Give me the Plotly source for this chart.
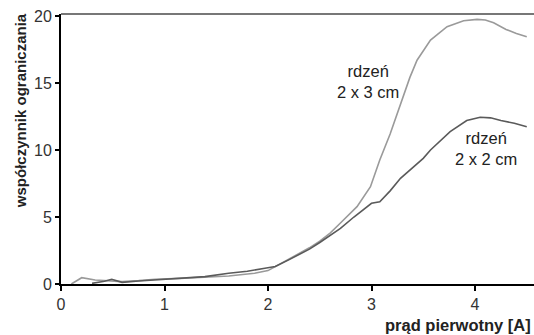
import plotly.graph_objects as go

# 2 x 3 cm core (light grey)
x_3cm = [0.10, 0.20, 0.33, 0.43, 0.59, 0.75, 0.91, 1.15, 1.39, 1.62, 1.87, 2.00, 2.20, 2.40, 2.50, 2.60, 2.70,
         2.86, 2.99, 3.08, 3.18, 3.29, 3.37, 3.44, 3.57, 3.73, 3.89, 4.02, 4.10, 4.18, 4.30, 4.40, 4.50]
y_3cm = [0.00, 0.47, 0.30, 0.25, 0.18, 0.25, 0.35, 0.42, 0.50, 0.60, 0.80, 1.00, 1.85, 2.70, 3.20, 3.80, 4.55,
         5.77, 7.26, 9.25, 11.2, 13.7, 15.4, 16.7, 18.2, 19.2, 19.65, 19.75, 19.7, 19.5, 19.0, 18.7, 18.45]

# 2 x 2 cm core (dark grey)
x_2cm = [0.30, 0.42, 0.49, 0.59, 0.75, 0.91, 1.15, 1.39, 1.62, 1.80, 1.97, 2.07, 2.20, 2.40, 2.50, 2.60, 2.70,
         2.83, 2.92, 3.00, 3.08, 3.18, 3.28, 3.40, 3.50, 3.57, 3.76, 3.92, 4.05, 4.15, 4.25, 4.38, 4.50]
y_2cm = [0.05, 0.20, 0.35, 0.12, 0.22, 0.30, 0.40, 0.55, 0.80, 0.95, 1.17, 1.30, 1.80, 2.60, 3.10, 3.60, 4.15,
         5.00, 5.55, 6.02, 6.14, 6.95, 7.89, 8.70, 9.38, 10.0, 11.37, 12.2, 12.44, 12.4, 12.2, 12.0, 11.74]

labels = ["rdzeń<br>2 x 3 cm", "rdzeń<br>2 x 2 cm"]
label_x = [2.97, 4.11]
label_y = [15.15, 10.15]

x_ticks = [0, 1, 2, 3, 4]
y_ticks = [0, 5, 10, 15, 20]

fig = go.Figure()
fig.add_trace(go.Scatter(x=x_3cm, y=y_3cm, mode="lines",
                         line=dict(color="#9a9a9a", width=1.6), showlegend=False))
fig.add_trace(go.Scatter(x=x_2cm, y=y_2cm, mode="lines",
                         line=dict(color="#5a5a5a", width=1.6), showlegend=False))

for t, lx, ly in zip(labels, label_x, label_y):
    fig.add_annotation(x=lx, y=ly, text=t, showarrow=False,
                       font=dict(family="Liberation Sans, Arial", size=16.5, color="#222"),
                       align="center")

fig.add_shape(type="line", xref="paper", yref="paper", x0=0, x1=1, y0=1, y1=1,
              line=dict(color="#777", width=2))

fig.update_layout(
    width=534, height=335,
    margin=dict(l=61, r=0, t=14, b=51),
    paper_bgcolor="white", plot_bgcolor="white",
    font=dict(family="Liberation Sans, Arial", size=16, color="#333"),
    xaxis=dict(range=[0, 4.57], tickvals=x_ticks, showgrid=False, zeroline=False,
               showline=True, linecolor="black", linewidth=2,
               ticks="outside", ticklen=5, tickwidth=1.5, tickcolor="black",
               title=None),
    yaxis=dict(range=[0, 20.15], tickvals=y_ticks, showgrid=False, zeroline=False,
               showline=True, linecolor="black", linewidth=2,
               ticks="outside", ticklen=4, tickwidth=1.5, tickcolor="black",
               title=None),
)

fig.add_annotation(text="<b>prąd pierwotny [A]</b>", xref="paper", yref="paper",
                   x=1.0, y=0, yshift=-41, xanchor="right", yanchor="middle", xshift=-1,
                   showarrow=False, font=dict(size=16.5, color="#222"))
fig.add_annotation(text="<b>współczynnik ograniczania</b>", xref="paper", yref="paper",
                   x=0, y=0.64, xshift=-41, textangle=-90, xanchor="center", yanchor="middle",
                   showarrow=False, font=dict(size=15, color="#222"))

fig.write_html("out.html")
